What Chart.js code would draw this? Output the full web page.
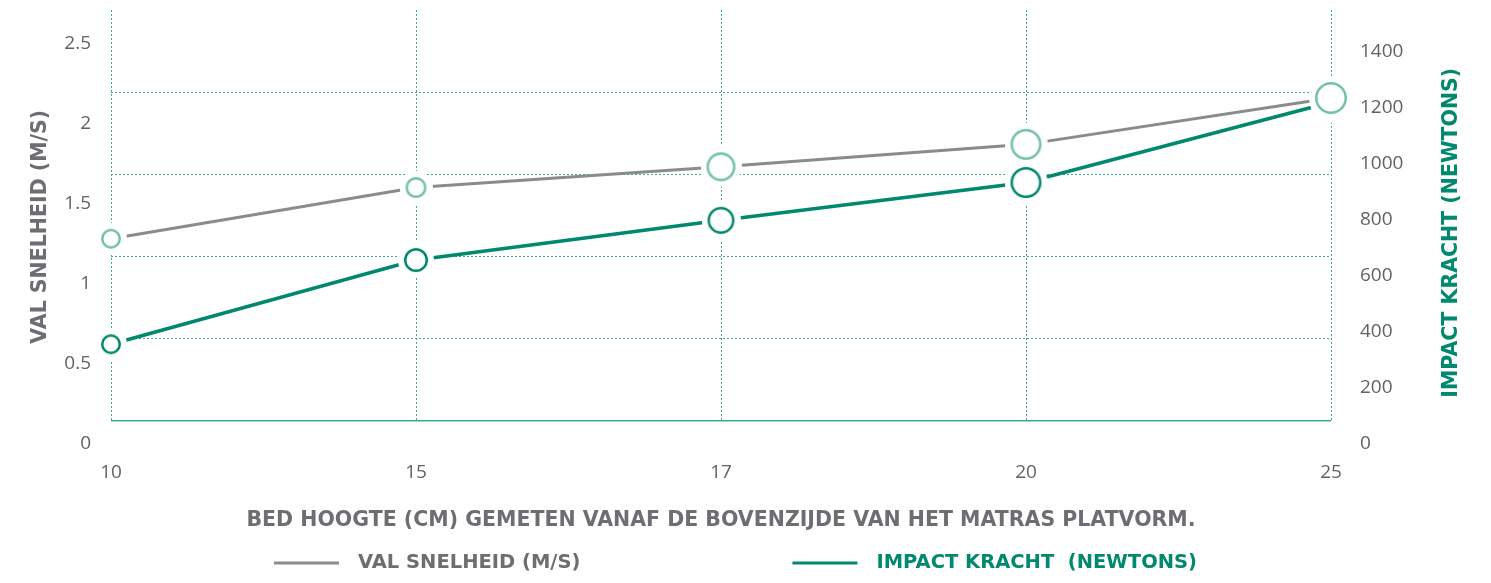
<!DOCTYPE html>
<html>
<head>
<meta charset="utf-8">
<script src="https://cdn.jsdelivr.net/npm/chart.js@4.4.0/dist/chart.umd.min.js"></script>
<style>
    html, body { margin: 0; padding: 0; background: #fff; }
    #wrap { width: 1491px; height: 583px; }
</style>
</head>
<body>
<div id="wrap"><canvas id="myChart" width="1491" height="583"></canvas></div>
<script>
// bed height (cm) on x, fall speed (m/s) on the left axis, impact force (N) on the right
const bedHeights = ['10', '15', '17', '20', '25'];
const fallSpeed = [1.28, 1.60, 1.73, 1.87, 2.16];
const impactForce = [355, 656, 798, 933, 1220];

const speedTicks = [0, 0.5, 1, 1.5, 2, 2.5];
const forceTicks = [0, 200, 400, 600, 800, 1000, 1200, 1400];
const gridLevels = [0, 1, 2, 3, 4];

const GRAY = '#8b8b8b';
const TEAL = '#00896e';
const LIGHT_TEAL = '#72c0ad';
const GRID = '#3fa993';
const LABEL = '#616265';
const TITLE = '#6d6e71';
const FONT = "'Open Sans', 'Noto Sans', sans-serif";
const TITLE_FONT = "'DejaVu Sans', 'Open Sans', sans-serif";

// outer radius of the marker rings, grows along the x axis
const speedRings = [10, 10.5, 14.5, 15.5, 16];
const forceRings = [10, 12, 13.5, 15.5, 15];

function ringMarker(r, color) {
    const halo = 6;
    const size = Math.ceil((r + halo) * 2);
    const c = document.createElement('canvas');
    c.width = c.height = size;
    const g = c.getContext('2d');
    g.fillStyle = '#fff';
    g.beginPath();
    g.arc(size / 2, size / 2, r + halo, 0, Math.PI * 2);
    g.fill();
    g.lineWidth = 2.5;
    g.strokeStyle = color;
    g.beginPath();
    g.arc(size / 2, size / 2, r - 1.25, 0, Math.PI * 2);
    g.stroke();
    return c;
}

const setTicks = list => scale => {
    scale.ticks = list.map(v => ({ value: v }));
};

// vertical dotted lines stop at the solid base line, not at the axis
const columnGrid = {
    id: 'columnGrid',
    beforeDatasetsDraw(chart) {
        const { ctx, chartArea, scales } = chart;
        const bottom = scales.g.getPixelForValue(0);
        ctx.save();
        ctx.strokeStyle = GRID;
        ctx.lineWidth = 1;
        ctx.setLineDash([2, 2]);
        scales.x.ticks.forEach((t, i) => {
            const x = Math.round(scales.x.getPixelForTick(i)) + 0.5;
            ctx.beginPath();
            ctx.moveTo(x, chartArea.top);
            ctx.lineTo(x, bottom);
            ctx.stroke();
        });
        ctx.restore();
    }
};

// right axis title reads bottom to top, plus the spread-out legend
const extraText = {
    id: 'extraText',
    afterDraw(chart) {
        const { ctx, chartArea } = chart;
        const sets = chart.data.datasets;

        ctx.save();
        ctx.font = 'bold 20.5px ' + TITLE_FONT;
        ctx.fillStyle = TEAL;
        ctx.textAlign = 'center';
        ctx.textBaseline = 'middle';
        ctx.translate(1452, (chartArea.top + chartArea.bottom) / 2 + 6);
        ctx.rotate(-Math.PI / 2);
        ctx.fillText('IMPACT KRACHT (NEWTONS)', 0, 0);
        ctx.restore();

        ctx.save();
        ctx.font = 'bold 19.5px ' + TITLE_FONT;
        ctx.textBaseline = 'middle';
        ctx.textAlign = 'left';
        const y = chart.height - 20;
        const lineW = 65, textGap = 19, itemGap = 212;
        const widths = sets.map(d => ctx.measureText(d.label).width);
        const total = widths.reduce((a, w) => a + lineW + textGap + w, 0) + itemGap;
        let x = chart.width / 2 - total / 2 - 10;
        sets.forEach((d, i) => {
            ctx.strokeStyle = d.borderColor;
            ctx.lineWidth = 3;
            ctx.beginPath();
            ctx.moveTo(x, y);
            ctx.lineTo(x + lineW, y);
            ctx.stroke();
            ctx.fillStyle = i === 0 ? TITLE : TEAL;
            ctx.fillText(d.label, x + lineW + textGap, y);
            x += lineW + textGap + widths[i] + itemGap;
        });
        ctx.restore();
    }
};

const ctx1 = document.getElementById('myChart');

new Chart(ctx1, {
    type: 'line',
    data: {
        labels: bedHeights,
        datasets: [{
            label: 'VAL SNELHEID (M/S)',
            data: fallSpeed,
            yAxisID: 'y',
            borderColor: GRAY,
            borderWidth: 3,
            pointStyle: speedRings.map(r => ringMarker(r, LIGHT_TEAL)),
            pointRadius: speedRings,
            clip: false
        }, {
            label: 'IMPACT KRACHT  (NEWTONS)',
            data: impactForce,
            yAxisID: 'y1',
            borderColor: TEAL,
            borderWidth: 3.5,
            pointStyle: forceRings.map(r => ringMarker(r, TEAL)),
            pointRadius: forceRings,
            clip: false
        }]
    },
    options: {
        responsive: false,
        animation: false,
        layout: {
            autoPadding: false,
            padding: { top: 10, bottom: 50, left: 0, right: 0 }
        },
        plugins: {
            legend: { display: false },
            tooltip: { enabled: false }
        },
        scales: {
            x: {
                offset: false,
                afterFit: s => { s.height = 89.5; },
                grid: { display: false, drawTicks: false },
                border: { display: false },
                ticks: {
                    padding: 18,
                    color: LABEL,
                    font: { family: FONT, size: 19 }
                },
                title: {
                    display: true,
                    text: 'BED HOOGTE (CM) GEMETEN VANAF DE BOVENZIJDE VAN HET MATRAS PLATVORM.',
                    color: TITLE,
                    font: { family: TITLE_FONT, size: 20.5, weight: 'bold' },
                    padding: { top: 25, bottom: 0 }
                }
            },
            y: {
                position: 'left',
                min: 0,
                max: 2.71,
                afterBuildTicks: setTicks(speedTicks),
                afterFit: s => { s.width = 111; },
                grid: { display: false, drawTicks: true, tickLength: 20 },
                border: { display: false },
                ticks: {
                    padding: 0,
                    color: LABEL,
                    font: { family: FONT, size: 19, lineHeight: 1 },
                    callback: v => String(v)
                },
                title: {
                    display: true,
                    text: 'VAL SNELHEID (M/S)',
                    color: TITLE,
                    font: { family: TITLE_FONT, size: 20.5, weight: 'bold' },
                    padding: { top: 28, bottom: 0 }
                }
            },
            y1: {
                position: 'right',
                min: 0,
                max: 1550,
                afterBuildTicks: setTicks(forceTicks),
                afterFit: s => { s.width = 160; },
                grid: { display: false, drawTicks: true, tickLength: 29 },
                border: { display: false },
                ticks: {
                    padding: 0,
                    color: LABEL,
                    font: { family: FONT, size: 19, lineHeight: 1 },
                    callback: v => String(v)
                }
            },
            g: {
                position: 'left',
                min: -0.272,
                max: 5,
                afterBuildTicks: setTicks(gridLevels),
                afterFit: s => { s.width = 0; },
                ticks: { display: false },
                grid: {
                    color: GRID,
                    drawTicks: false,
                    lineWidth: c => (c.tick && c.tick.value === 0 ? 1.5 : 1)
                },
                border: {
                    display: false,
                    dash: c => (c.tick && c.tick.value === 0 ? [] : [2, 2])
                }
            }
        }
    },
    plugins: [columnGrid, extraText]
});
</script>
</body>
</html>
